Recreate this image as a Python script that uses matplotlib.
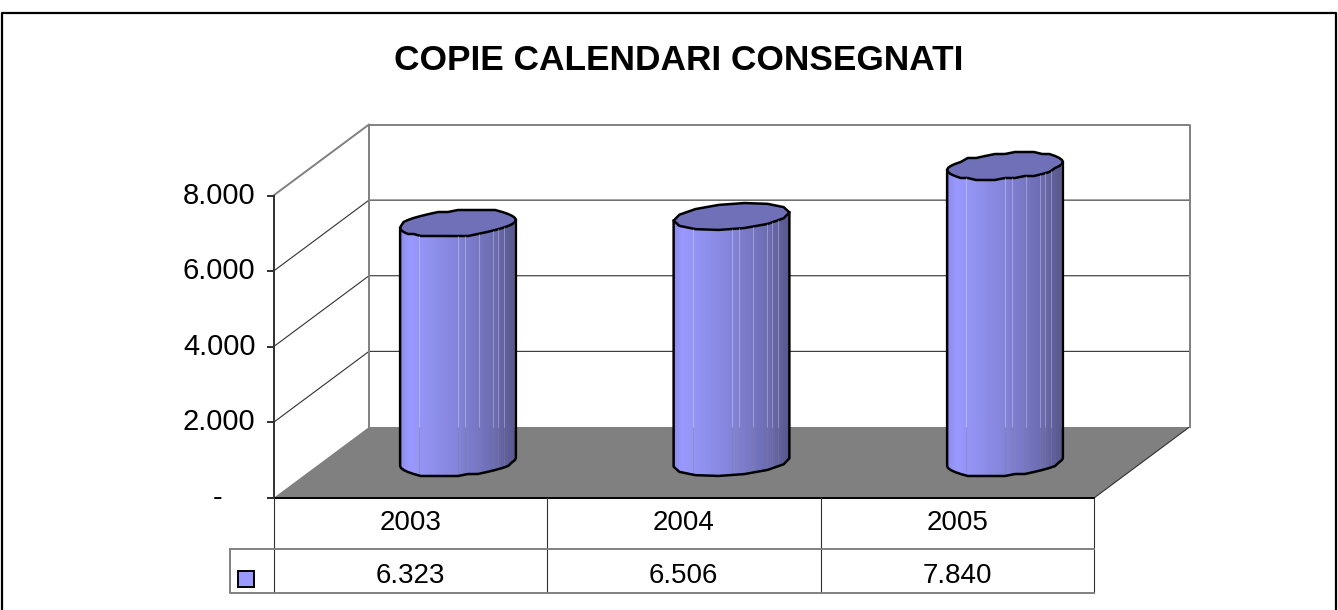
import numpy as np
import matplotlib
matplotlib.use('Agg')
import matplotlib.pyplot as plt
from matplotlib.colors import LinearSegmentedColormap
from matplotlib.patches import Polygon
from matplotlib.transforms import IdentityTransform, ScaledTranslation

plt.rcParams['font.family'] = ['Liberation Sans', 'DejaVu Sans']

# dati
titolo = 'COPIE CALENDARI CONSEGNATI'
anni = ['2003', '2004', '2005']
copie = [6323, 6506, 7840]
copie_label = ['6.323', '6.506', '7.840']
y_ticks = [0, 2000, 4000, 6000, 8000]
y_labels = ['-    ', '2.000', '4.000', '6.000', '8.000']

W, H = 1338, 610
NERO = '#000000'
GRIGIO = '#808080'
SCURO = '#303030'
LW1 = 0.8
LW2 = 1.4

# prospettiva della base, in pixel
DX, DY = 95.5, 71

fig = plt.figure(figsize=(W / 100, H / 100), dpi=100, facecolor='white')

# sfondo in pixel: cornice, pareti, pavimento, tabella
bg = fig.add_axes([0, 0, 1, 1])
bg.set_xlim(0, W)
bg.set_ylim(H, 0)
bg.axis('off')

# l'asse vero, con valori e categorie
x0, x1 = 273.5, 1094
y0, y8 = 498, 195.5
ax = fig.add_axes([x0 / W, 1 - y0 / H, (x1 - x0) / W, (y0 - y8) / H])
ax.set_xlim(0, len(anni))
ax.set_ylim(0, 8000)
ax.patch.set_alpha(0)
for s in ['top', 'right', 'bottom']:
    ax.spines[s].set_visible(False)
ax.spines['left'].set_color(SCURO)
ax.spines['left'].set_linewidth(LW2)
ax.set_xticks([])
ax.set_yticks(y_ticks)
ax.set_yticklabels(y_labels, fontsize=21)
ax.tick_params(axis='y', length=5, width=LW2, color=SCURO, pad=8)
# le etichette stanno un poco sopra la tacca
su_etichette = ScaledTranslation(0, 3 / 72 * 0.72, fig.dpi_scale_trans)
for lab in ax.get_yticklabels():
    lab.set_transform(lab.get_transform() + su_etichette)


def py(v):
    return y0 - (y0 - y8) * v / 8000


# cornice
bg.plot([2, 2, W - 2, W - 2], [H, 13, 13, H], color=NERO, lw=1.6)

# pavimento
bg.add_patch(Polygon([(x0, y0), (x1, y0), (x1 + DX, y0 - DY), (x0 + DX, y0 - DY)],
                     facecolor=GRIGIO, edgecolor='none'))
bg.plot([x1, x1 + DX], [y0, y0 - DY], color=SCURO, lw=LW1)

# griglia
for v in y_ticks[1:-1]:
    bg.plot([x0, x0 + DX, x1 + DX], [py(v), py(v) - DY, py(v) - DY], color=SCURO, lw=LW1)
bg.plot([x0, x0 + DX], [py(8000), py(8000) - DY], color=GRIGIO, lw=LW2)
bg.plot([x0 + DX, x0 + DX, x1 + DX, x1 + DX],
        [y0 - DY, py(8000) - DY, py(8000) - DY, y0 - DY], color=GRIGIO, lw=LW2)

# tabella
riga, fondo, sx = 549, 593, 230
bg.plot([x0 - 6, x1], [y0, y0], color=NERO, lw=LW2)
for c in np.linspace(x0, x1, len(anni) + 1):
    bg.plot([c, c], [y0, fondo], color=SCURO, lw=LW1)
bg.plot([sx, x1], [riga, riga], color=GRIGIO, lw=LW2)
bg.plot([sx, sx, x1], [riga, fondo, fondo], color=GRIGIO, lw=LW2)
bg.add_patch(Polygon([(238, 571), (254, 571), (254, 587), (238, 587)],
                     facecolor='#9999FF', edgecolor=NERO, lw=LW2))
centri = (np.linspace(x0, x1, len(anni) + 1)[:-1] + np.linspace(x0, x1, len(anni) + 1)[1:]) / 2
for c, a, l in zip(centri, anni, copie_label):
    bg.text(c, 523, a, ha='center', va='center', fontsize=20)
    bg.text(c, 576, l, ha='center', va='center', fontsize=20)

bg.text(679, 61, titolo, ha='center', va='center', fontsize=25.4, fontweight='bold')

# cilindri
sfumatura = LinearSegmentedColormap.from_list(
    'cil', [(0, '#8C8CEC'), (0.07, '#9999FF'), (0.5, '#8484DA'), (0.85, '#6A6AAE'), (1, '#58588E')])
A, B, ALT = 55, 18, 13.5
cuciture = [19, 58, 65, 79, 93, 98, 104, 114]
punti = [36, 14, 36]
passo = [2, 0, 2]
tr = IdentityTransform()
t0 = np.arctan2(B, A)


def ellisse(cx, cy, t, q):
    xs = cx + A * np.cos(t) + B * np.sin(t)
    ys = cy + ALT * np.sin(t)
    if q:
        ys = np.round(ys / q) * q
    return xs, ys


for i, v in enumerate(copie):
    cx, cy_top = ax.transData.transform((i + 0.5, v))
    _, cy_base = ax.transData.transform((i + 0.5, 0))
    cx, cy_top, cy_base = cx + DX / 2, cy_top + DY / 2, cy_base + DY / 2
    q = passo[i]
    arco = np.linspace(t0 + np.pi, t0 + 2 * np.pi, punti[i] // 2 + 1)
    xa, ya = ellisse(cx, cy_base, arco, q)
    xt, yt = ellisse(cx, cy_top, arco, q)

    # corpo a strisce
    bordi = np.linspace(xa[0], xa[-1], 59)
    for k in range(len(bordi) - 1):
        xs = [bordi[k], bordi[k + 1], bordi[k + 1], bordi[k]]
        giu = np.interp(xs[:2], xa, ya)
        su = np.interp(xs[:2], xt, yt)
        ax.add_patch(Polygon(list(zip(xs, [giu[0], giu[1], su[1], su[0]])), closed=True,
                             facecolor=sfumatura(k / (len(bordi) - 2)), edgecolor='none',
                             antialiased=False, transform=tr, clip_on=False))
    # le cuciture lasciano vedere lo sfondo
    pav = H - (y0 - DY)
    for s in cuciture:
        xc = xa[0] + s
        giu, su = np.interp(xc, xa, ya), np.interp(xc, xt, yt)
        ax.plot([xc, xc], [pav, su], color='white', alpha=0.3, lw=0.7, transform=tr, clip_on=False)
        ax.plot([xc, xc], [giu, pav], color=GRIGIO, alpha=0.4, lw=0.7, transform=tr, clip_on=False)

    # contorno e coperchio
    ax.plot(np.r_[xt[0], xa, xt[-1]], np.r_[yt[0], ya, yt[-1]], color=NERO, lw=1.8,
            transform=tr, clip_on=False, solid_joinstyle='round')
    giro = np.linspace(0, 2 * np.pi, punti[i] + 1)
    xe, ye = ellisse(cx, cy_top, giro + t0, q)
    ax.add_patch(Polygon(list(zip(xe, ye)), closed=True, facecolor='#7070B8', edgecolor=NERO,
                         lw=1.8, transform=tr, clip_on=False, joinstyle='round'))

ax.set_xlim(0, len(anni))
ax.set_ylim(0, 8000)

fig.savefig('out.png', dpi=100, facecolor='white')
